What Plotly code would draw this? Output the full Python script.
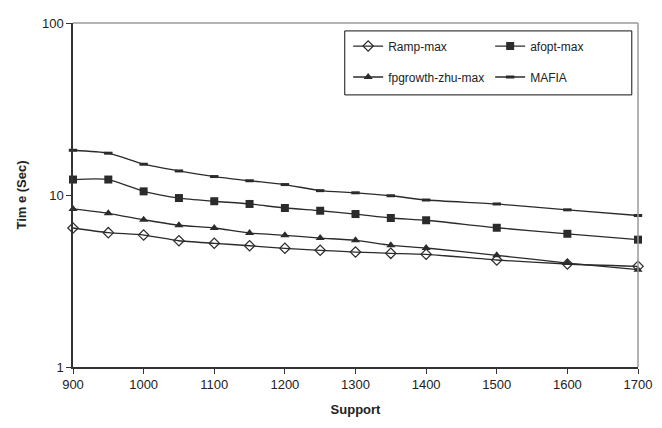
import plotly.graph_objects as go

support = [900, 950, 1000, 1050, 1100, 1150, 1200, 1250, 1300, 1350, 1400, 1500, 1600, 1700]
ramp_max = [6.43, 6.04, 5.85, 5.42, 5.24, 5.07, 4.90, 4.77, 4.66, 4.58, 4.52, 4.19, 3.97, 3.85]
afopt_max = [12.3, 12.3, 10.5, 9.6, 9.2, 8.87, 8.4, 8.1, 7.75, 7.35, 7.13, 6.45, 5.95, 5.5]
fpgrowth_max = [8.3, 7.83, 7.18, 6.67, 6.43, 6.01, 5.83, 5.62, 5.45, 5.1, 4.92, 4.46, 4.02, 3.68]
mafia = [18.2, 17.5, 15.1, 13.8, 12.8, 12.1, 11.5, 10.6, 10.3, 9.9, 9.35, 8.87, 8.2, 7.6]

series_names = ["Ramp-max", "afopt-max", "fpgrowth-zhu-max", "MAFIA"]
legend_rows = ["legend", "legend", "legend2", "legend2"]
x_ticks = [900, 1000, 1100, 1200, 1300, 1400, 1500, 1600, 1700]
y_ticks = [1, 10, 100]

LINE = "#2b2b2b"
FONT = "Liberation Sans, Arial, sans-serif"

styles = [
    dict(symbol="diamond-open", size=8, color=LINE, line=dict(width=1.2, color=LINE)),
    dict(symbol="square", size=8, color=LINE),
    dict(symbol="triangle-up", size=8, color=LINE),
    dict(symbol="line-ew", size=6, color=LINE, line=dict(width=3, color=LINE)),
]

fig = go.Figure()
for name, ys, mk, lg in zip(series_names, [ramp_max, afopt_max, fpgrowth_max, mafia], styles, legend_rows):
    fig.add_trace(go.Scatter(
        x=support, y=ys, name=name, mode="lines+markers", legend=lg,
        line=dict(color=LINE, width=1.3, shape="spline", smoothing=0.6),
        marker=mk, cliponaxis=False,
    ))

legend_common = dict(
    orientation="h", xanchor="left", yanchor="middle",
    entrywidth=97, entrywidthmode="pixels",
    borderwidth=0, bgcolor="rgba(0,0,0,0)",
    font=dict(family=FONT, size=12, color="#222"),
    itemwidth=30,
)

fig.update_layout(
    width=662, height=428,
    margin=dict(l=65, r=32, t=15, b=69, autoexpand=False),
    paper_bgcolor="white", plot_bgcolor="white",
    font=dict(family=FONT, size=13, color="#222"),
    showlegend=True,
    legend=dict(x=0.487, y=0.933, **legend_common),
    legend2=dict(x=0.487, y=0.843, **legend_common),
    xaxis=dict(
        range=[900, 1700], tickvals=x_ticks, ticktext=[str(v) for v in x_ticks],
        showgrid=False, zeroline=False, showline=True, linecolor="#333", linewidth=1.5,
        ticks="outside", ticklen=5, tickcolor="#333",
        title=dict(text="<b>Support</b>", font=dict(size=13), standoff=14),
        tickfont=dict(size=13),
    ),
    yaxis=dict(
        type="log", range=[0, 2], tickvals=y_ticks, ticktext=[str(v) for v in y_ticks],
        showgrid=False, zeroline=False, showline=True, linecolor="#333", linewidth=1.5,
        ticks="outside", ticklen=5, tickcolor="#333",
        title=dict(text="<b>Tim e (Sec)</b>", font=dict(size=13), standoff=12),
        tickfont=dict(size=13),
    ),
    shapes=[
        dict(type="line", xref="paper", yref="paper", x0=0, x1=1, y0=1, y1=1,
             line=dict(color="#9a9a9a", width=1.5)),
        dict(type="line", xref="paper", yref="paper", x0=1, x1=1, y0=0, y1=1,
             line=dict(color="#9a9a9a", width=1.5)),
        dict(type="rect", xref="paper", yref="paper", x0=0.481, x1=0.989, y0=0.791, y1=0.977,
             line=dict(color="#111", width=1), fillcolor="white", layer="above"),
    ],
)

fig.write_html("out.html")
